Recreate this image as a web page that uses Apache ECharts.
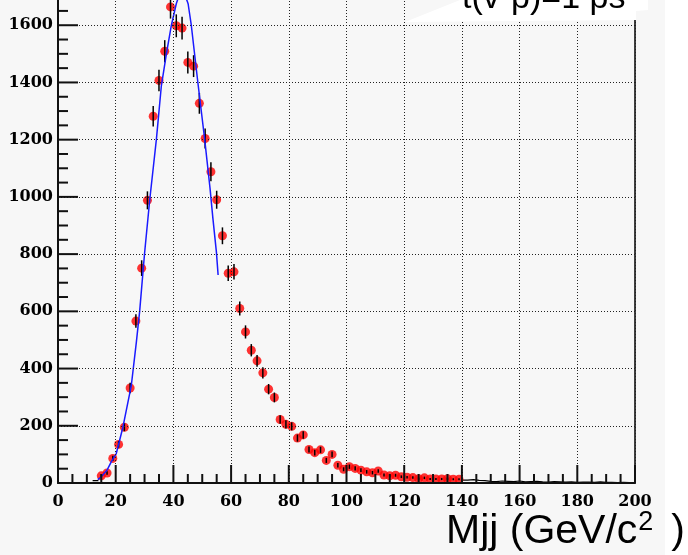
<!DOCTYPE html>
<html>
<head>
<meta charset="utf-8">
<script src="https://cdn.jsdelivr.net/npm/echarts@6/dist/echarts.min.js"></script>
<style>
  html, body { margin: 0; padding: 0; background: #ffffff; overflow: hidden; }
  /* the frame runs above the visible window, so the canvas starts higher up */
  #chart { position: absolute; left: 0; top: -40px; width: 688px; height: 595px; }
</style>
</head>
<body>
<div id="chart"></div>
<script>
// Dijet invariant mass: bin centres (GeV/c^2) and counts per 2 GeV bin
const massBins = [15, 17, 19, 21, 23, 25, 27, 29, 31, 33, 35, 37, 39, 41, 43, 45, 47, 49, 51, 53,
  55, 57, 59, 61, 63, 65, 67, 69, 71, 73, 75, 77, 79, 81, 83, 85, 87, 89, 91, 93,
  95, 97, 99, 101, 103, 105, 107, 109, 111, 113, 115, 117, 119, 121, 123, 125, 127, 129, 131, 133,
  135, 137, 139];
const counts = [25, 35, 86, 135, 195, 332, 566, 751, 988, 1282, 1407, 1509, 1664, 1598, 1590, 1470, 1457, 1327, 1204, 1088,
  990, 864, 733, 738, 610, 528, 464, 427, 385, 328, 299, 222, 205, 198, 157, 168, 117, 106, 116, 79,
  100, 62, 48, 57, 51, 45, 39, 36, 42, 28, 25, 27, 22, 20, 19, 15, 18, 14, 14, 14,
  15, 13, 13];

// Low-count bins drawn as a plain histogram outline
const lowBins = [13];
const lowCounts = [8];
const tailBins = [141, 143, 145, 147, 149, 151, 153, 155, 157, 159, 161, 163, 165, 167, 169,
  171, 173, 175, 177, 179, 181, 183, 185, 187, 189, 191, 193, 195, 197, 199];
const tailCounts = [10, 12, 9, 8, 6, 5, 7, 6, 5, 7, 4, 5, 6, 4, 3,
  5, 4, 3, 4, 2, 3, 3, 2, 4, 2, 2, 1, 2, 1, 1];

// Fitted peak shape, sampled along the curve
const fitMass = [13.8, 15, 17, 18.5, 20.2, 22.5, 25.4, 27.2, 28.3, 30, 31.8, 34.1, 35.8, 37.6, 39.3, 41, 43,
  45.1, 46.2, 48.5, 50.8, 52.7, 53.7, 54.9, 55.5];
const fitValue = [12, 22, 45, 75, 103, 195, 340, 496, 600, 802, 990, 1201, 1386, 1502, 1600, 1675, 1735,
  1675, 1600, 1398, 1205, 1030, 924, 808, 727];

const xTicks = [0, 20, 40, 60, 80, 100, 120, 140, 160, 180, 200];
const yTicks = [0, 200, 400, 600, 800, 1000, 1200, 1400, 1600, 1800];
const MINOR_SPLIT = 4;

const BIN_HALF = 1;
const OFFSET = 40; // canvas rows hidden above the window

function stepOutline(bins, vals) {
  const pts = bins.map((c, i) => [c - BIN_HALF, vals[i]]);
  pts.push([bins[bins.length - 1] + BIN_HALF, vals[vals.length - 1]]);
  return pts;
}

// tick rows in data space: [x, y, axis (0 = bottom, 1 = left), isMajor]
function tickTable(ticks, axisId) {
  const rows = [];
  const push = (t, major) => rows.push(axisId === 0
    ? [t, yTicks[0], 0, major]
    : [xTicks[0], t, 1, major]);
  ticks.forEach((t, i) => {
    push(t, 1);
    if (i < ticks.length - 1) {
      const step = (ticks[i + 1] - t) / MINOR_SPLIT;
      for (let k = 1; k < MINOR_SPLIT; k++) push(t + k * step, 0);
    }
  });
  return rows;
}
const tickRows = tickTable(xTicks, 0).concat(tickTable(yTicks, 1));

const chart = echarts.init(document.getElementById('chart'), null, { renderer: 'canvas' });

const labelFont = { fontFamily: 'DejaVu Serif', fontSize: 16, fontWeight: 'bold', color: '#000' };
const dotted = { color: '#222', width: 1, type: [1, 2] };

const option = {
  backgroundColor: '#ffffff',
  animation: false,
  grid: { left: 58, right: 53, top: 4, bottom: 72, show: false },
  xAxis: {
    type: 'value', min: xTicks[0], max: xTicks[xTicks.length - 1], interval: 20, z: 10,
    axisLine: { show: true, onZero: false, lineStyle: { color: '#111', width: 2 } },
    axisTick: { show: false }, minorTick: { show: false },
    splitLine: { show: true, lineStyle: dotted },
    axisLabel: Object.assign({ show: true, margin: 11, formatter: v => String(v) }, labelFont)
  },
  yAxis: [
    {
      type: 'value', min: yTicks[0], max: yTicks[yTicks.length - 1], interval: 200, z: 10,
      axisLine: { show: true, onZero: false, lineStyle: { color: '#111', width: 2 } },
      axisTick: { show: false }, minorTick: { show: false },
      splitLine: { show: true, lineStyle: dotted },
      axisLabel: Object.assign({ show: true, margin: 5, formatter: v => String(v) }, labelFont)
    },
    {
      // right-hand frame edge
      type: 'value', position: 'right', min: yTicks[0], max: yTicks[yTicks.length - 1], interval: 200,
      axisLine: { show: true, onZero: false, lineStyle: { color: '#000', width: 1.5 } },
      axisTick: { show: false }, axisLabel: { show: false }, splitLine: { show: false }
    }
  ],
  series: [
    {
      type: 'line', data: stepOutline(lowBins, lowCounts), step: 'end',
      symbol: 'none', lineStyle: { color: '#000', width: 1.2 }, z: 2
    },
    {
      type: 'line', data: stepOutline(tailBins, tailCounts), step: 'end',
      symbol: 'none', lineStyle: { color: '#000', width: 1.2 }, z: 2
    },
    {
      type: 'scatter', data: massBins.map((m, i) => [m, counts[i]]),
      symbol: 'circle', symbolSize: 9, itemStyle: { color: '#ff0000' }, z: 3
    },
    {
      type: 'custom', z: 4,
      data: massBins.map((m, i) => [m, counts[i]]),
      renderItem: function (params, api) {
        const m = api.value(0), v = api.value(1), e = Math.sqrt(v);
        const a = api.coord([m, v - e]), b = api.coord([m, v + e]);
        return { type: 'line', shape: { x1: a[0], y1: a[1], x2: b[0], y2: b[1] },
          style: { stroke: '#000', lineWidth: 1.5 } };
      }
    },
    {
      type: 'line', data: fitMass.map((m, i) => [m, fitValue[i]]),
      symbol: 'none', smooth: false, lineStyle: { color: '#1a1aff', width: 1.5 }, z: 5
    },
    {
      // inward tick marks along the bottom and left axes, drawn as thin filled bars
      type: 'custom', z: 30, silent: true, data: tickRows,
      renderItem: function (params, api) {
        const p = api.coord([api.value(0), api.value(1)]);
        const onLeft = api.value(2) === 1, major = api.value(3) === 1;
        const shape = onLeft
          ? { x: p[0], y: p[1] - 1, width: major ? 20 : 10, height: 2 }
          : { x: p[0] - 1, y: p[1] - (major ? 18 : 9), width: 2, height: major ? 18 : 9 };
        return { type: 'rect', shape: shape, style: { fill: '#111' } };
      }
    }
  ],
  graphic: [
    { type: 'rect', z: -10, silent: true, shape: { x: 0, y: 0, width: 665, height: 555 + OFFSET }, style: { fill: '#f7f7f7' } },
    { type: 'polygon', z: 100,
      shape: { points: [[405, 22 + OFFSET], [460, OFFSET], [460, 0], [648, 0], [648, 10 + OFFSET], [636, 11 + OFFSET], [636, 20 + OFFSET]] },
      style: { fill: '#ffffff' } },
    { type: 'text', z: 101, x: 462, y: 16 + OFFSET,
      style: { text: 't(v-p)=1 ps', font: '34px "Liberation Sans"', fill: '#000', verticalAlign: 'bottom', align: 'left' } },
    { type: 'text', z: 101, x: 446, y: 555 + OFFSET,
      style: {
        text: '{a|Mjj (GeV/c}{s|2}{a|)}', verticalAlign: 'bottom', align: 'left',
        rich: {
          a: { fontFamily: 'Liberation Sans', fontSize: 41, color: '#000', lineHeight: 46 },
          s: { fontFamily: 'Liberation Sans', fontSize: 27, color: '#000', verticalAlign: 'top', lineHeight: 46, padding: [0, 18, 0, 1] }
        }
      } }
  ]
};

chart.setOption(option);
</script>
</body>
</html>
